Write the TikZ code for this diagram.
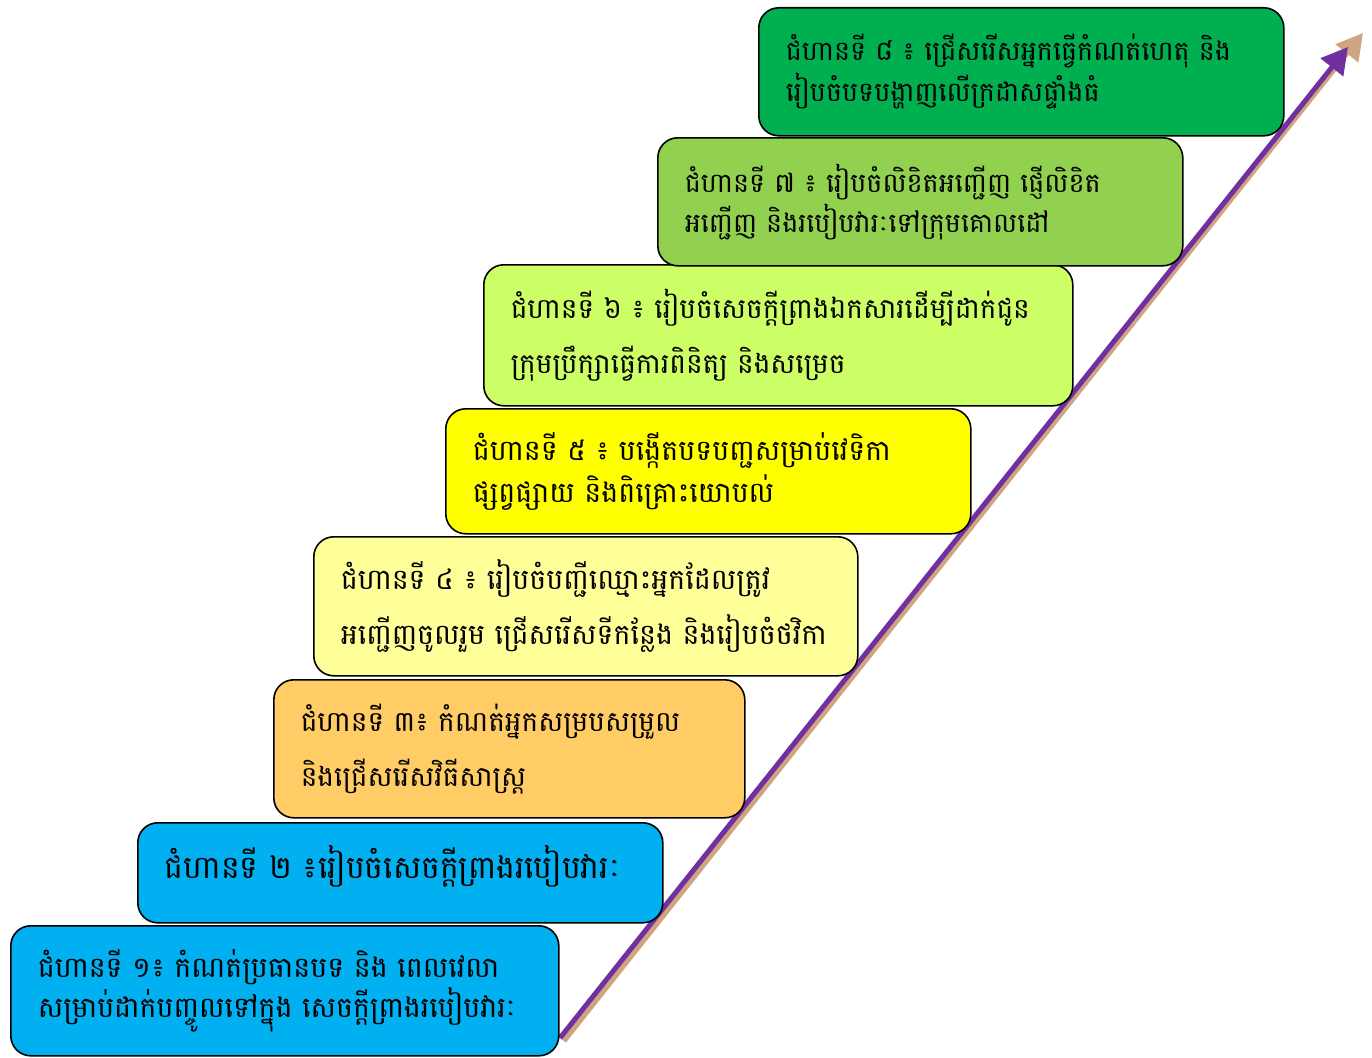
\documentclass[tikz,border=0pt]{standalone}
\usepackage{fontspec}
\newfontfamily\khmer[Script=Khmer]{Battambang}
\usetikzlibrary{arrows.meta}
\definecolor{cyanbox}{HTML}{00B0F0}
\definecolor{orangebox}{HTML}{FFCC66}
\definecolor{paleyellow}{HTML}{FFFF99}
\definecolor{brightyellow}{HTML}{FFFF00}
\definecolor{limebox}{HTML}{CCFF66}
\definecolor{lightgreen}{HTML}{92D050}
\definecolor{darkgreen}{HTML}{00B050}
\definecolor{arrowpurple}{HTML}{7030A0}
\definecolor{arrowtan}{HTML}{D0A47E}
\begin{document}
\begin{tikzpicture}[x=1pt,y=-1pt,
  stepbox/.style={draw=black, line width=1.6pt, rounded corners=20pt,
    anchor=north west, align=left, inner xsep=27pt, inner ysep=0pt,
    font=\khmer\fontsize{28}{32}\selectfont},
  arrowline/.style={line width=5pt, -{Triangle[length=26pt,width=28pt]}}]
\useasboundingbox (0,0) rectangle (1372,1057);
\fill[white] (0,0) rectangle (1372,1057);
% arrow
\coordinate (ts) at (564,1041);
\coordinate (te) at (1363,33);
\coordinate (ps) at (560,1038);
\coordinate (pe) at (1348,47);
\draw[arrowline, arrowtan] (ts) -- (te);
\draw[arrowline, arrowpurple] (ps) -- (pe);
% boxes
\node[stepbox, fill=cyanbox, minimum width=548pt, minimum height=130pt, text width=494pt,
  font=\khmer\fontsize{28.5}{40}\selectfont] (s1) at (10,925)
  {ជំហានទី ១៖ កំណត់ប្រធានបទ និង ពេលវេលា\\សម្រាប់ដាក់បញ្ចូលទៅក្នុង សេចក្ដីព្រាងរបៀបវារៈ};
\node[stepbox, fill=cyanbox, minimum width=525pt, minimum height=100pt, text width=471pt,
  font=\khmer\fontsize{31.5}{36}\selectfont] (s2) at (137,822)
  {ជំហានទី ២ ៖រៀបចំសេចក្ដីព្រាងរបៀបវារៈ\vphantom{ក}\\[-14pt]\mbox{}};
\node[stepbox, fill=orangebox, minimum width=471pt, minimum height=138pt, text width=417pt,
  font=\khmer\fontsize{28}{55}\selectfont] (s3) at (273,679)
  {ជំហានទី ៣៖ កំណត់អ្នកសម្របសម្រួល\\និងជ្រើសរើសវិធីសាស្ត្រ};
\node[stepbox, fill=paleyellow, minimum width=544pt, minimum height=139pt, text width=490pt,
  font=\khmer\fontsize{28.5}{55}\selectfont] (s4) at (313,536)
  {ជំហានទី ៤ ៖ រៀបចំបញ្ជីឈ្មោះអ្នកដែលត្រូវ\\អញ្ជើញចូលរួម ជ្រើសរើសទីកន្លែង និងរៀបចំថវិកា};
\node[stepbox, fill=brightyellow, minimum width=525pt, minimum height=125pt, text width=471pt,
  font=\khmer\fontsize{28.5}{42}\selectfont] (s5) at (445,408)
  {ជំហានទី ៥ ៖ បង្កើតបទបញ្ជសម្រាប់វេទិកា\\ផ្សព្វផ្សាយ និងពិគ្រោះយោបល់};
\node[stepbox, fill=limebox, minimum width=589pt, minimum height=141pt, text width=535pt,
  font=\khmer\fontsize{28}{55}\selectfont] (s6) at (483,264)
  {ជំហានទី ៦ ៖ រៀបចំសេចក្ដីព្រាងឯកសារដើម្បីដាក់ជូន\\ក្រុមប្រឹក្សាធ្វើការពិនិត្យ  និងសម្រេច};
\node[stepbox, fill=lightgreen, minimum width=525pt, minimum height=128pt, text width=471pt,
  font=\khmer\fontsize{27}{40}\selectfont] (s7) at (657,137)
  {ជំហានទី ៧ ៖ រៀបចំលិខិតអញ្ជើញ ផ្ញើលិខិត\\អញ្ជើញ និងរបៀបវារៈទៅក្រុមគោលដៅ};
\node[stepbox, fill=darkgreen, minimum width=525pt, minimum height=128pt, text width=471pt,
  font=\khmer\fontsize{27}{41}\selectfont] (s8) at (758,7)
  {ជំហានទី ៨ ៖ ជ្រើសរើសអ្នកធ្វើកំណត់ហេតុ និង\\រៀបចំបទបង្ហាញលើក្រដាសផ្ទាំងធំ};
\end{tikzpicture}
\end{document}
